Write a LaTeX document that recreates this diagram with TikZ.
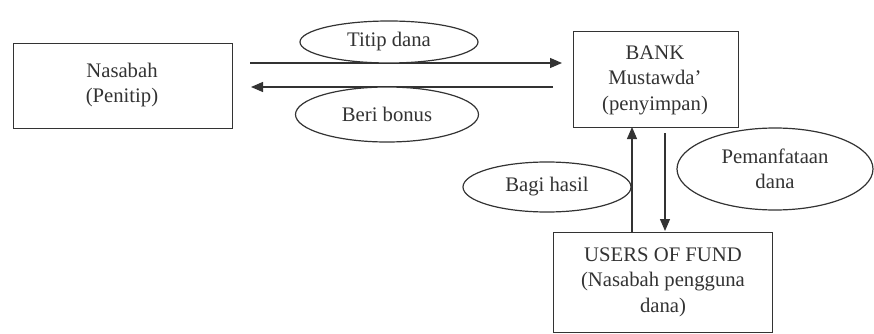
\documentclass[tikz,border=0pt]{standalone}
\usepackage{fontspec}
\setmainfont{Liberation Serif}
\usetikzlibrary{shapes.geometric,arrows.meta}
\begin{document}
\begin{tikzpicture}[x=1pt,y=-1pt,
  ink/.style={draw=black!80,line width=1.2pt},
  txt/.style={text=black!80,font=\fontsize{20.7}{25.5}\selectfont,align=center},
  boxn/.style={ink,txt,rectangle,inner sep=0pt,anchor=north west},
  ell/.style={ink,txt,ellipse,inner sep=0pt,fill=white},
  arr/.style={ink,-{Triangle[length=12pt,width=10pt]}}]
\useasboundingbox (0,0) rectangle (874,334);
% boxes
\node[boxn,minimum width=219pt,minimum height=85pt] (nas) at (13,43) {};
\node[txt] (nastxt) at (122,85) {Nasabah\\(Penitip)};
\node[boxn,minimum width=165pt,minimum height=96pt] (bank) at (573,31) {};
\node[txt] (banktxt) at (655,80) {BANK\\Mustawda'\\(penyimpan)};
\node[boxn,minimum width=219pt,minimum height=100pt] (users) at (553,232) {};
\node[txt] (userstxt) at (663,282) {USERS OF FUND\\(Nasabah pengguna\\dana)};
% horizontal arrows
\coordinate (a1s) at (250,63);
\coordinate (a1e) at (562,63);
\coordinate (a2s) at (553,87);
\coordinate (a2e) at (251,87);
\draw[arr] (a1s) -- (a1e);
\draw[arr] (a2s) -- (a2e);
% vertical arrows
\coordinate (v1s) at (632,232);
\coordinate (v1e) at (632,127);
\coordinate (v2s) at (665,133);
\coordinate (v2e) at (665,231);
\draw[arr] (v1s) -- (v1e);
\draw[arr] (v2s) -- (v2e);
% ellipses
\node[ell,minimum width=178pt,minimum height=42pt] (titip) at (389,42) {Titip dana};
\node[ell,minimum width=183pt,minimum height=55pt] (beri) at (387,114.5) {Beri bonus};
\node[ell,minimum width=168pt,minimum height=50pt] (bagi) at (547,187) {Bagi hasil};
\node[ell,minimum width=196pt,minimum height=82pt] (peman) at (775,169) {Pemanfataan\\dana};
\end{tikzpicture}
\end{document}
